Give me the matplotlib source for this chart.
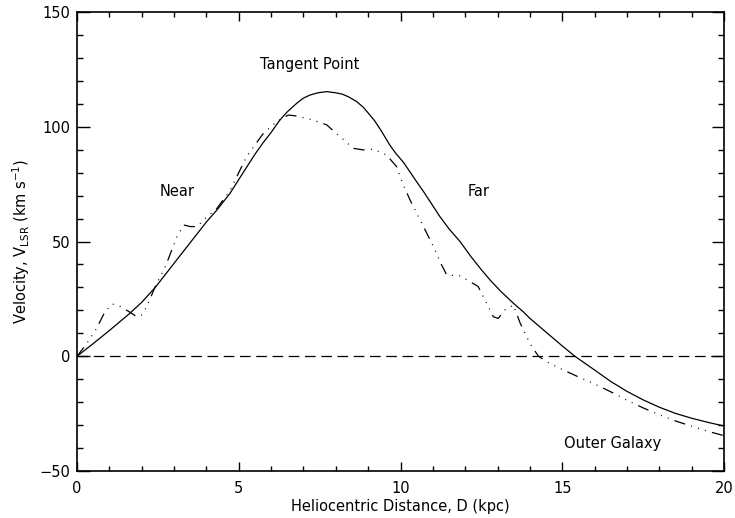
import matplotlib
matplotlib.use("Agg")
import matplotlib.pyplot as plt
from matplotlib.ticker import MultipleLocator

# Model rotation-curve velocity (solid)
d_model = [0.0, 0.5, 1.0, 1.6, 2.0, 2.42, 3.0, 3.4, 4.0, 4.33, 4.73, 5.0, 5.25, 5.5, 5.75,
           6.0, 6.27, 6.5, 6.79, 7.0, 7.2, 7.45, 7.72, 8.0, 8.2, 8.4, 8.65, 8.85, 9.0,
           9.2, 9.37, 9.5, 9.67, 9.85, 10.09, 10.3, 10.5, 10.7, 10.91, 11.22, 11.5,
           11.84, 12.2, 12.5, 12.77, 13.1, 13.49, 13.8, 14.0, 14.5, 15.0, 15.39, 16.0,
           16.5, 17.0, 17.5, 18.0, 18.5, 19.0, 19.5, 20.0]
v_model = [0.0, 5.5, 11.2, 18.3, 23.5, 30.0, 40.5, 47.7, 58.5, 63.8, 71.0, 77.0, 82.5, 88.0, 93.0,
           97.5, 102.9, 106.5, 110.2, 112.5, 113.8, 114.8, 115.3, 114.8, 114.2, 113.0, 110.9, 108.5, 106.0,
           102.6, 99.0, 96.0, 92.0, 88.5, 84.5, 80.2, 76.0, 72.0, 67.5, 60.8, 55.5,
           50.0, 43.0, 37.7, 33.2, 28.3, 23.1, 19.3, 16.5, 10.5, 4.5, 0.0, -6.0,
           -11.0, -15.3, -19.0, -22.2, -24.9, -27.0, -28.8, -30.4]

# Observed / perturbed velocity (dash-dot-dot-dot)
d_obs = [0.0, 0.3, 0.6, 0.85, 1.08, 1.3, 1.6, 1.85, 2.0, 2.16, 2.42, 2.73, 3.09, 3.3,
         3.5, 3.71, 3.97, 4.33, 4.74, 5.24, 5.76, 6.17, 6.53, 6.79, 7.3, 7.72, 8.13,
         8.54, 8.85, 9.16, 9.57, 9.88, 10.09, 10.3, 10.71, 11.02, 11.27, 11.43, 11.84,
         12.15, 12.4, 12.66, 12.87, 13.02, 13.23, 13.49, 13.7, 14.0, 14.26, 14.52,
         14.93, 15.5, 15.96, 16.5, 16.99, 17.5, 18.02, 18.5, 19.05, 19.5, 20.0]
v_obs = [0.0, 5.5, 12.0, 19.0, 22.8, 22.0, 19.5, 17.2, 18.0, 21.7, 30.4, 39.0, 52.1, 57.2,
         56.5, 56.5, 60.1, 64.5, 72.4, 87.0, 97.1, 102.2, 105.1, 104.7, 102.9, 100.8, 95.7,
         90.6, 89.9, 90.2, 87.7, 82.6, 74.5, 68.0, 56.5, 47.7, 39.8, 35.4, 35.0,
         32.5, 30.4, 23.1, 17.2, 16.5, 20.2, 22.3, 14.4, 5.6, 0.1, -2.4,
         -5.3, -9.0, -11.8, -15.5, -19.1, -22.5, -25.6, -28.2, -30.7, -32.7, -34.6]

x_ticks = [0, 5, 10, 15, 20]
y_ticks = [-50, 0, 50, 100, 150]

fig = plt.figure(figsize=(7.35, 5.18), dpi=100)
ax = fig.add_axes([77/735, 47/518, (724-77)/735, (471-12)/518])

ax.plot(d_model, v_model, color="black", lw=0.9)
line, = ax.plot(d_obs, v_obs, color="black", lw=0.9)
line.set_dashes((9, 5, 0.8, 5, 0.8, 5, 0.8, 5))
zl = ax.axhline(0, color="black", lw=0.9)
zl.set_dashes((8.5, 4.5))

ax.set_xlim(0, 20)
ax.set_ylim(-50, 150)
ax.set_xticks(x_ticks)
ax.set_yticks(y_ticks)
ax.xaxis.set_minor_locator(MultipleLocator(1))
ax.yaxis.set_minor_locator(MultipleLocator(10))

ax.tick_params(axis="both", which="both", direction="in", top=True, right=True,
               labelsize=10.5, width=1.0)
ax.tick_params(axis="x", which="major", length=6.2, pad=7)
ax.tick_params(axis="x", which="minor", length=3.5)
ax.tick_params(axis="y", which="major", length=9.0, pad=4.5)
ax.tick_params(axis="y", which="minor", length=4.3)
for s in ax.spines.values():
    s.set_linewidth(1.2)

ax.set_xlabel("Heliocentric Distance, D (kpc)", fontsize=10.5, labelpad=2)
ax.set_ylabel(r"Velocity, V$_{\rm LSR}$ (km s$^{-1}$)", fontsize=10.5, labelpad=6)

ax.text(7.2, 127.3, "Tangent Point", fontsize=10.5, ha="center", va="center")
ax.text(3.08, 71.6, "Near", fontsize=10.5, ha="center", va="center")
ax.text(12.41, 71.6, "Far", fontsize=10.5, ha="center", va="center")
ax.text(16.57, -38.0, "Outer Galaxy", fontsize=10.5, ha="center", va="center")

fig.savefig("out.png", dpi=100)
